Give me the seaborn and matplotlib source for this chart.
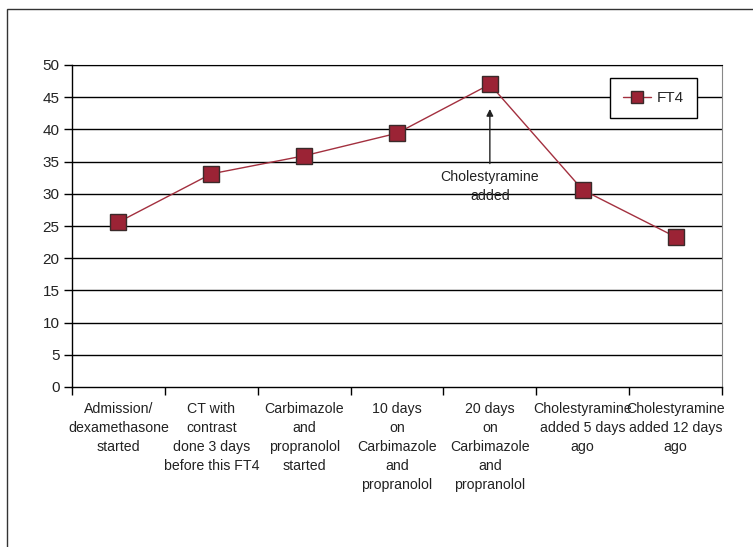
import seaborn as sns
import matplotlib.pyplot as plt
import pandas as pd
from matplotlib import font_manager
from matplotlib.patches import Rectangle

categories = ['Admission/\ndexamethasone\nstarted',
              'CT with\ncontrast\ndone 3 days\nbefore this FT4',
              'Carbimazole\nand\npropranolol\nstarted',
              '10 days\non\nCarbimazole\nand\npropranolol',
              '20 days\non\nCarbimazole\nand\npropranolol',
              'Cholestyramine\nadded 5 days\nago',
              'Cholestyramine\nadded 12 days\nago']
ft4 = [25.6, 33.1, 35.9, 39.4, 47.0, 30.6, 23.3]
y_ticks = list(range(0, 51, 5))

sns.set_style('white')
names = {f.name for f in font_manager.fontManager.ttflist}
if 'Liberation Sans Narrow' in names:
    plt.rcParams['font.family'] = ['Liberation Sans Narrow', 'DejaVu Sans']
    fs = 12
else:
    plt.rcParams['font.family'] = ['Liberation Sans', 'DejaVu Sans']
    fs = 10.2

df = pd.DataFrame({'pos': range(len(categories)), 'FT4': ft4})

fig = plt.figure(figsize=(7.53, 5.47), dpi=100)
ax = fig.add_axes([72/753, 1 - 387/547, (722-72)/753, (387-65)/547])

# outer frame
fig.patches.append(Rectangle((7/753, -0.1), 1.0, 1 - 9/547 + 0.1, transform=fig.transFigure,
                             fill=False, edgecolor='#333333', linewidth=1.0))

for yv in y_ticks[1:]:
    ax.axhline(yv, color='black', linewidth=1.0, zorder=0)

sns.lineplot(data=df, x='pos', y='FT4', ax=ax, color='#a3303f', linewidth=1.0,
             marker='s', markersize=11, markerfacecolor='#9b2335',
             markeredgecolor='#3a2a2a', markeredgewidth=1.0, label='FT4')

ax.set_xlim(-0.5, len(categories) - 0.5)
ax.set_ylim(0, 50)
ax.set_yticks(y_ticks)
ax.set_yticklabels([str(v) for v in y_ticks], fontsize=11, color='#222222')
ax.set_xticks(range(len(categories)))
ax.set_xticklabels(categories, fontsize=fs, linespacing=1.45, color='#222222')
ax.set_xticks([i - 0.5 for i in range(len(categories) + 1)], minor=True)
ax.tick_params(axis='x', which='major', length=0, pad=11)
ax.tick_params(axis='x', which='minor', length=6, width=1, color='black', direction='out', bottom=True)
ax.tick_params(axis='y', length=6, width=1, color='black', direction='out', left=True, pad=3)
ax.set_xlabel('')
ax.set_ylabel('')

for s in ['left', 'bottom']:
    ax.spines[s].set_color('black')
    ax.spines[s].set_linewidth(1.0)
ax.spines['top'].set_color('black')
ax.spines['right'].set_color('#888888')

ax.annotate('Cholestyramine\nadded', xy=(4, 43.6), xytext=(4, 31.2),
            ha='center', va='center', fontsize=fs, linespacing=1.45, color='#222222',
            arrowprops=dict(arrowstyle='-|>', color='#222222', lw=1.0, mutation_scale=10, shrinkA=2))

leg = ax.legend(loc='upper right', bbox_to_anchor=(0.9615, 0.96), borderaxespad=0, fontsize=11,
                frameon=True, fancybox=False, edgecolor='black', framealpha=1, handlelength=1.8,
                handletextpad=0.4, borderpad=0.85, markerscale=0.8)
leg.get_frame().set_linewidth(1.0)

fig.savefig('out.png', dpi=100)
